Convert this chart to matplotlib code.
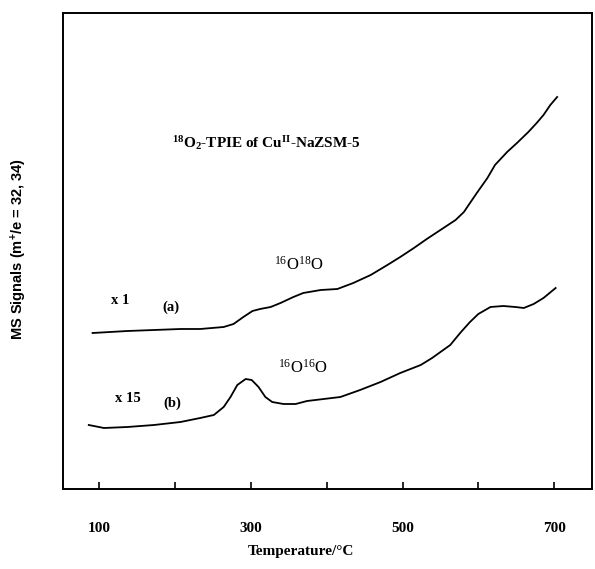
import matplotlib
matplotlib.use("Agg")
import matplotlib.pyplot as plt
import numpy as np

plt.rcParams['font.family'] = ['Liberation Serif', 'DejaVu Serif']
plt.rcParams['mathtext.fontset'] = 'custom'
plt.rcParams['mathtext.rm'] = 'Liberation Serif'
plt.rcParams['mathtext.bf'] = 'Liberation Serif:bold'
plt.rcParams['mathtext.default'] = 'regular'

# curva (a): 16O18O, x 1
temp_a = [91, 137, 207, 233, 264, 277, 290, 302, 312, 326, 339, 356, 369,
          392, 414, 435, 458, 480, 497, 515, 532, 554, 570, 581, 589, 598,
          612, 622, 638, 651, 666, 677, 686, 695, 704]
sig_a = [156, 158, 160, 160, 162, 165, 172, 178, 180, 182, 186, 192, 196,
         199, 200, 206, 214, 224, 232, 241, 250, 261, 269, 277, 286, 296,
         311, 324, 337, 346, 357, 366, 374, 384, 392]

# curva (b): 16O16O, x 15
temp_b = [86, 106, 137, 172, 207, 233, 251, 264, 273, 282, 293, 301, 310,
          319, 328, 343, 359, 374, 396, 418, 444, 471, 497, 524, 539, 563,
          576, 589, 600, 616, 633, 649, 660, 673, 686, 702]
sig_b = [64, 61, 62, 64, 67, 71, 74, 82, 92, 104, 110, 109, 102,
         92, 87, 85, 85, 88, 90, 92, 99, 107, 116, 124, 131, 144,
         156, 167, 175, 182, 183, 182, 181, 185, 191, 201]

ticks_x = [100, 200, 300, 400, 500, 600, 700]
tick_labels = ['100', '', '300', '', '500', '', '700']

fig = plt.figure(figsize=(5.95, 5.69), dpi=100)
ax = fig.add_axes([63/595, 1-489/569, 529/595, 476/569])

ax.plot(temp_a, sig_a, color='black', lw=1.3)
ax.plot(temp_b, sig_b, color='black', lw=1.3)

ax.set_xlim(52, 750)
ax.set_ylim(0, 476)
ax.set_xticks(ticks_x)
ax.set_xticklabels(tick_labels, fontweight='bold', fontsize=11)
ax.tick_params(axis='x', direction='in', length=5, width=1.2, pad=24)
ax.set_yticks([])
for s in ax.spines.values():
    s.set_linewidth(1.4)

# textos
ax.text(196, 346, r'$^{18}$O$_2$-TPIE of Cu$^{II}$-NaZSM-5',
        fontsize=11, fontweight='bold', ha='left', va='center')
ax.text(128, 189, 'x 1', fontsize=10.5, fontweight='bold', ha='center', va='center')
ax.text(195, 182, '(a)', fontsize=10.5, fontweight='bold', ha='center', va='center')
ax.text(138, 90, 'x 15', fontsize=10.5, fontweight='bold', ha='center', va='center')
ax.text(196, 86, '(b)', fontsize=10.5, fontweight='bold', ha='center', va='center')
ax.text(363, 224, r'$^{16}$O$^{18}$O', fontsize=12, ha='center', va='center')
ax.text(368, 121, r'$^{16}$O$^{16}$O', fontsize=12, ha='center', va='center')

fig.text(301/595, 1-552/569, 'Temperature/°C', fontsize=11, fontweight='bold',
         ha='center', va='center')
fig.text(19/595, 1-249/569, r'MS Signals (m$^{+}$/e = 32, 34)', fontsize=10.5,
         fontweight='bold', rotation=90, ha='center', va='center',
         family=['Liberation Sans', 'DejaVu Sans'])

fig.savefig('out.png', dpi=100)
